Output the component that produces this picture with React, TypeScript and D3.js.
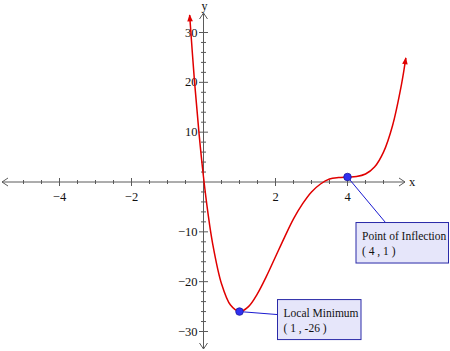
import * as d3 from "d3";

// curve samples (x, y)
const curveX = [-0.385, -0.25, -0.125, 0, 0.125, 0.25, 0.5, 0.75, 1, 1.25, 1.5, 1.75, 2, 2.25, 2.5, 2.75, 3, 3.25, 3.5, 3.75, 4, 4.25, 4.5, 4.75, 5, 5.25, 5.5, 5.62];
const curveY = [33.5, 20.2, 9.8, 1, -6.3, -12.2, -20.4, -24.7, -26, -25.0, -22.4, -18.9, -15, -11.1, -7.4, -4.4, -2, -0.4, 0.6, 0.9, 1, 1.1, 1.6, 3.0, 6, 11.3, 19.6, 24.9];

// marked points
const markX = [1, 4];
const markY = [-26, 1];
const markTitle = ["Local Minimum", "Point of Inflection"];
const markCoord = ["( 1 , -26 )", "( 4 , 1 )"];

const xTickLabels = [-4, -2, 2, 4];
const yTickLabels = [-30, -20, -10, 10, 20, 30];

const W = 450;
const H = 351;

export default function App() {
  const x = d3.scaleLinear().domain([-4, 4]).range([59.5, 347.5]);
  const y = d3.scaleLinear().domain([-30, 30]).range([331.5, 32.5]);
  const x0 = x(0);
  const y0 = y(0);
  const fmt = d3.format("d");

  const pts: [number, number][] = curveX.map((v, i) => [v, curveY[i]]);
  const line = d3.line<[number, number]>()
    .x(d => x(d[0]))
    .y(d => y(d[1]))
    .curve(d3.curveCatmullRom.alpha(0.5));

  const xMinor = d3.range(-5, 5.01, 0.5);
  const yMinor = d3.range(-30, 30.01, 2);
  const axisCol = "#5a5a5a";
  const font = "Liberation Serif, DejaVu Serif, serif";

  // callout box offsets relative to marked point (px)
  const boxes = [
    { dx: 38, dy: -12, w: 83.5, h: 40, lx: 38, ly: 3 },
    { dx: 8.5, dy: 45.5, w: 92.5, h: 40.5, lx: 38, ly: 45.5 },
  ];

  return (
    <svg width={W} height={H} style={{ position: "absolute", left: 0, top: 0, background: "#fff", fontFamily: font }}>
      <defs>
        <marker id="redArrow" viewBox="0 0 10 10" refX="9" refY="5" markerWidth="8" markerHeight="7"
          markerUnits="userSpaceOnUse" orient="auto-start-reverse">
          <path d="M0,1 L10,5 L0,9 z" fill="#e00000" />
        </marker>
      </defs>

      {/* x axis */}
      <line x1={2} x2={405} y1={y0} y2={y0} stroke={axisCol} />
      <path d={`M8,${y0 - 4} L2,${y0} L8,${y0 + 4}`} fill="none" stroke={axisCol} />
      <path d={`M399,${y0 - 4} L405,${y0} L399,${y0 + 4}`} fill="none" stroke={axisCol} />
      {xMinor.filter(v => v !== 0).map(v => {
        const major = xTickLabels.includes(v);
        const h = major ? 4 : 2;
        return <line key={"xt" + v} x1={x(v)} x2={x(v)} y1={y0 - h} y2={y0 + h} stroke={axisCol} />;
      })}
      {xTickLabels.map(v => (
        <text key={"xl" + v} x={x(v)} y={y0 + 19} fontSize={12.5} textAnchor="middle" fill="#111">{fmt(v)}</text>
      ))}
      <text x={412} y={y0 + 4} fontSize={12.5} textAnchor="middle" fill="#111">x</text>

      {/* y axis */}
      <line x1={x0} x2={x0} y1={13} y2={349} stroke={axisCol} />
      <path d={`M${x0 - 4},19 L${x0},13 L${x0 + 4},19`} fill="none" stroke={axisCol} />
      <path d={`M${x0 - 4},343 L${x0},349 L${x0 + 4},343`} fill="none" stroke={axisCol} />
      {yMinor.filter(v => v !== 0).map(v => {
        const major = yTickLabels.includes(v);
        const h = major ? 4.5 : 2.5;
        return <line key={"yt" + v} x1={x0 - h} x2={x0 + h} y1={y(v)} y2={y(v)} stroke={axisCol} />;
      })}
      {yTickLabels.map(v => (
        <text key={"yl" + v} x={x0 - 6} y={y(v) + 4} fontSize={12.5} textAnchor="end" fill="#111">{fmt(v)}</text>
      ))}
      <text x={x0 + 1} y={10} fontSize={12} textAnchor="middle" fill="#111">y</text>

      {/* curve */}
      <path d={line(pts) ?? ""} fill="none" stroke="#e00000" strokeWidth={1.5}
        markerStart="url(#redArrow)" markerEnd="url(#redArrow)" />

      {/* callouts */}
      {markX.map((mx, i) => {
        const px = x(mx);
        const py = y(markY[i]);
        const b = boxes[i];
        const bx = px + b.dx;
        const by = py + b.dy;
        return (
          <g key={"m" + i}>
            <line x1={px} y1={py} x2={px + b.lx} y2={py + b.ly} stroke="#1a1ad0" strokeWidth={1} />
            <rect x={bx} y={by} width={b.w} height={b.h} fill="#e6e6fa" stroke="#2a2aa8" strokeWidth={1} />
            <text x={bx + 6} y={by + 17} fontSize={11.5} fill="#111">{markTitle[i]}</text>
            <text x={bx + 6} y={by + 32} fontSize={11.5} fill="#111">{markCoord[i]}</text>
            <circle cx={px} cy={py} r={3.8} fill="#3030f0" stroke="#1a1aa0" strokeWidth={0.8} />
          </g>
        );
      })}
    </svg>
  );
}
